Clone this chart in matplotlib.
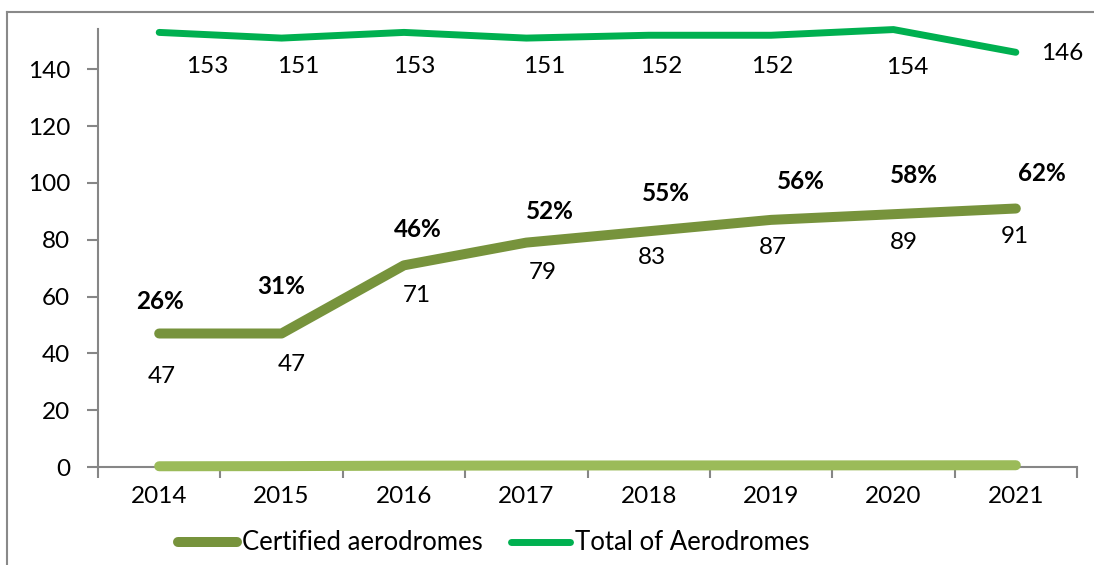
import matplotlib.pyplot as plt
from matplotlib.lines import Line2D

# ===== Data =====
years = ["2014", "2015", "2016", "2017", "2018", "2019", "2020", "2021"]
certified = [47, 47, 71, 79, 83, 87, 89, 91]
total = [153, 151, 153, 151, 152, 152, 154, 146]
share_labels = ["26%", "31%", "46%", "52%", "55%", "56%", "58%", "62%"]
share = [0.26, 0.31, 0.46, 0.52, 0.55, 0.56, 0.58, 0.62]

# ===== Style =====
FONT = "Lato"
FS = 17.5
C_CERT = "#77933C"
C_TOTAL = "#00B050"
C_SHARE = "#9BBB59"
C_AXIS = "#868686"

# label offsets in pixels (dx, dy), hand placed like the original
cert_off = [(3, -43), (10, -31), (13, -30), (16, -30), (3, -26), (2, -28), (10, -28), (-1, -28)]
share_off = [(1, 32), (0, 47), (14, 36), (24, 31), (17, 38), (30, 38), (20, 39), (26, 35)]
total_off = [(48, -34), (17, -28), (10, -34), (18, -28), (13, -31), (1, -31), (14, -38), (46, -1)]

plt.rcParams['font.family'] = [FONT, 'DejaVu Sans']

fig = plt.figure(figsize=(10.94, 5.65), dpi=100)
ax = fig.add_axes([98 / 1094, 1 - 467 / 565, 979 / 1094, 438 / 565])

x = list(range(len(years)))

ax.plot(x, share, color=C_SHARE, lw=7.2, solid_capstyle='round', zorder=3, clip_on=False)
ax.plot(x, certified, color=C_CERT, lw=7.2, solid_capstyle='round', zorder=4,
        clip_on=False, label="Certified aerodromes")
ax.plot(x, total, color=C_TOTAL, lw=5, solid_capstyle='round', zorder=4,
        clip_on=False, label="Total of Aerodromes")

for i in x:
    ax.annotate(str(certified[i]), (i, certified[i]), xytext=cert_off[i],
                textcoords='offset pixels', ha='center', va='center', fontsize=FS)
    ax.annotate(share_labels[i], (i, certified[i]), xytext=share_off[i],
                textcoords='offset pixels', ha='center', va='center',
                fontsize=FS, fontweight='bold')
    ax.annotate(str(total[i]), (i, total[i]), xytext=total_off[i],
                textcoords='offset pixels', ha='center', va='center', fontsize=FS)

# ===== Axes =====
ax.set_xlim(-0.5, len(years) - 0.5)
ax.set_ylim(0, 154.2)
ax.set_yticks(range(0, 141, 20))
ax.set_xticks([i + 0.5 for i in range(-1, len(years))], minor=False)
ax.set_xticklabels([])
ax.set_xticks(x, minor=True)
ax.set_xticklabels(years, minor=True, fontsize=FS)
ax.tick_params(axis='x', which='minor', length=0, pad=14)
ax.tick_params(axis='x', which='major', length=8, color=C_AXIS, width=1.5)
ax.tick_params(axis='y', length=8, color=C_AXIS, width=1.5, labelsize=FS, pad=12)

for side in ['top', 'right']:
    ax.spines[side].set_visible(False)
for side in ['left', 'bottom']:
    ax.spines[side].set_color(C_AXIS)
    ax.spines[side].set_linewidth(1.5)

# ===== Legend =====
leg = fig.legend(loc='center', bbox_to_anchor=(494 / 1094, 1 - 543 / 565), ncol=2,
                 frameon=False, fontsize=18.5, handlelength=2.3, handletextpad=0.2,
                 columnspacing=1.1, borderpad=0)
for h in leg.get_lines():
    h.set_solid_capstyle('round')

# ===== Outer border =====
fig.add_artist(Line2D([7 / 1094, 7 / 1094], [0, 1 - 12 / 565], transform=fig.transFigure,
                      color="#898989", lw=1.5))
fig.add_artist(Line2D([7 / 1094, 1], [1 - 12 / 565, 1 - 12 / 565], transform=fig.transFigure,
                      color="#898989", lw=1.5))

fig.savefig("out.png", dpi=100)
